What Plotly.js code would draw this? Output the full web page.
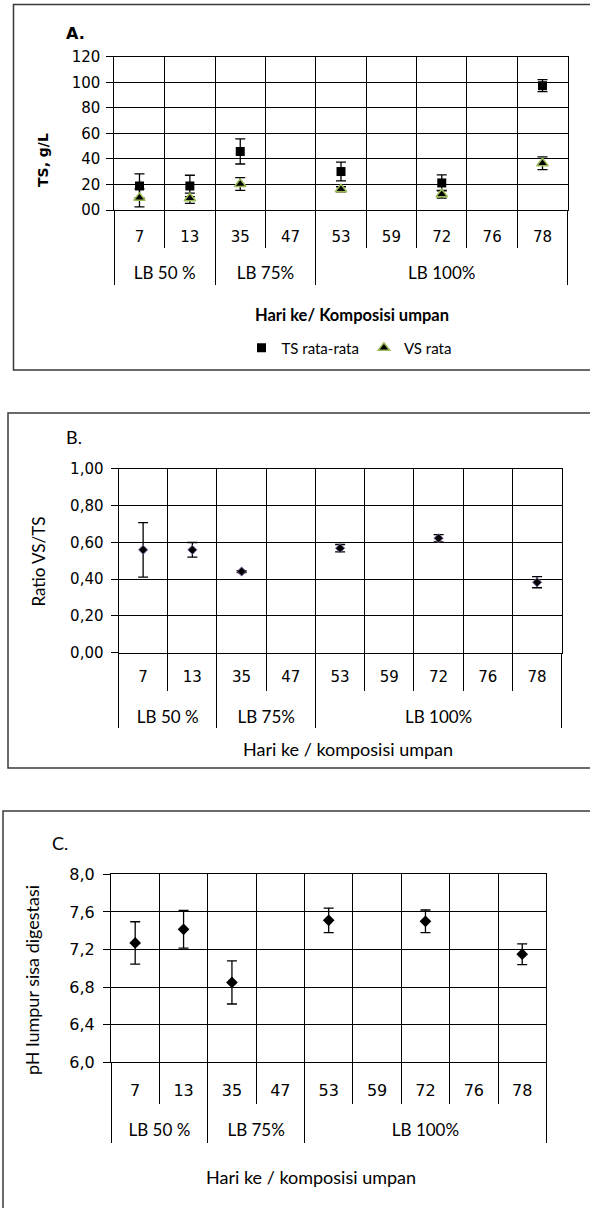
<!DOCTYPE html>
<html><head><meta charset="utf-8">
<script src="https://cdn.plot.ly/plotly-3.0.1.min.js"></script>
<style>html,body{margin:0;padding:0;background:#fff}#chart{width:590px;height:1208px}</style>
</head><body><div id="chart"></div>
<script>
// ---- data ----
const days = ['7','13','35','47','53','59','72','76','78'];
const groups = ['LB 50 %','LB 75%','LB 100%'];
const groupSizes = [2,2,5];
const tsMean  = [18.8,18.8,45.8,null,30.1,null,21.2,null,97.3];
const tsErr   = [9.4,8.4,9.8,null,7.3,null,6.3,null,4.7];
const vsMean  = [9.5,9.2,20.4,null,16.2,null,12.3,null,36.6];
const vsErr   = [7,4,5,null,2,null,3,null,5];
const ratioMean = [0.559,0.559,0.441,null,0.568,null,0.622,null,0.383];
const ratioErr  = [0.148,0.04,0.005,null,0.02,null,0.02,null,0.03];
const phMean = [7.27,7.415,6.85,null,7.51,null,7.50,null,7.15];
const phErr  = [0.225,0.2,0.23,null,0.13,null,0.12,null,0.11];
const tsTicks = [0,20,40,60,80,100,120];
const tsTickText = ['00','20','40','60','80','100','120'];
const ratioTicks = [0,0.2,0.4,0.6,0.8,1.0];
const ratioTickText = ['0,00','0,20','0,40','0,60','0,80','1,00'];
const phTicks = [6.0,6.4,6.8,7.2,7.6,8.0];
const phTickText = ['6,0','6,4','6,8','7,2','7,6','8,0'];

// ---- helpers ----
const W = 590, H = 1208;
const px = v => v / W, py = v => 1 - v / H;
const xi = days.map((d, i) => i);
const bounds = days.map((d, i) => i - 0.5).concat([days.length - 0.5]);
const gb = [-0.5], gc = [];
let acc = 0;
groupSizes.forEach(n => { gc.push(acc + (n - 1) / 2); acc += n; gb.push(acc - 0.5); });
const xr = [-0.5, days.length - 0.5];

const layout = {
  width: W, height: H, margin: {l: 0, r: 0, t: 0, b: 0},
  paper_bgcolor: '#fff', plot_bgcolor: 'rgba(0,0,0,0)',
  showlegend: true,
  legend: {orientation: 'h', x: px(349), xanchor: 'center', y: py(348), yanchor: 'middle',
           font: {family: 'Lato', size: 15, color: '#000'}, bgcolor: 'rgba(0,0,0,0)', itemwidth: 30},
  annotations: [], shapes: []
};

const data = [];

function panel(p) {
  const mainX = 'xaxis' + (p.xn === 1 ? '' : p.xn);
  const grpX = 'xaxis' + (p.xn + 1);
  const yA = 'yaxis' + (p.yn === 1 ? '' : p.yn);
  const yRef = 'y' + (p.yn === 1 ? '' : p.yn);
  const xRef = 'x' + (p.xn === 1 ? '' : p.xn);
  const gRef = 'x' + (p.xn + 1);
  layout[mainX] = {
    domain: [px(p.L), px(p.R)], anchor: yRef, range: xr, fixedrange: true,
    tickmode: 'array', tickvals: xi, ticktext: days, ticks: '',
    showgrid: false, zeroline: false, showline: true, linecolor: '#000', linewidth: 1, mirror: true,
    tickfont: p.catFont, ticklabelstandoff: p.catOff,
    minor: {tickmode: 'array', tickvals: bounds, ticks: 'outside', ticklen: p.shortLen,
            tickcolor: '#000', tickwidth: 1, showgrid: true, gridcolor: '#000', gridwidth: 1}
  };
  layout[grpX] = {
    overlaying: xRef, anchor: yRef, range: xr, fixedrange: true,
    tickmode: 'array', tickvals: gc, ticktext: groups, ticks: '',
    showgrid: false, zeroline: false, showline: false,
    tickfont: {family: 'Lato', size: 17, color: '#000'}, ticklabelstandoff: p.grpOff,
    minor: {tickmode: 'array', tickvals: gb, ticks: 'outside', ticklen: p.grpLen,
            tickcolor: '#000', tickwidth: 1, showgrid: false}
  };
  layout[yA] = {
    domain: [py(p.B), py(p.T)], anchor: xRef, range: p.yr, fixedrange: true,
    tickmode: 'array', tickvals: p.tv, ticktext: p.tt, ticks: 'outside', ticklen: 7,
    tickcolor: '#000', tickwidth: 1, showgrid: true, gridcolor: '#000', gridwidth: 1,
    showline: true, linecolor: '#000', linewidth: 1, mirror: true, zeroline: false,
    tickfont: p.yFont, ticklabelstandoff: p.yOff
  };
  // empty carrier trace so the group-label axis is drawn
  data.push({type: 'scatter', mode: 'markers', x: gc, y: gc.map(() => null), xaxis: gRef, yaxis: yRef,
             showlegend: false, hoverinfo: 'skip', marker: {opacity: 0}});
  return {x: xRef, y: yRef};
}

const A = panel({xn: 1, yn: 1, L: 114.3, R: 567.7, T: 56.7, B: 210, yr: [0, 120], tv: tsTicks, tt: tsTickText,
  catFont: {family: 'DejaVu Sans', size: 15, color: '#000'}, yFont: {family: 'DejaVu Sans', size: 15, color: '#000'},
  catOff: 13, grpOff: 51, yOff: 3, shortLen: 37, grpLen: 74});
const Bp = panel({xn: 3, yn: 2, L: 118.5, R: 561.7, T: 468.7, B: 652.7, yr: [0, 1], tv: ratioTicks, tt: ratioTickText,
  catFont: {family: 'DejaVu Sans', size: 15, color: '#000'}, yFont: {family: 'DejaVu Sans', size: 15, color: '#000'},
  catOff: 10, grpOff: 52, yOff: 4, shortLen: 37, grpLen: 74});
const Cp = panel({xn: 5, yn: 3, L: 111, R: 546.4, T: 874.3, B: 1062.3, yr: [6, 8], tv: phTicks, tt: phTickText,
  catFont: {family: 'DejaVu Sans', size: 16, color: '#000'}, yFont: {family: 'DejaVu Sans', size: 16, color: '#000'},
  catOff: 13, grpOff: 56, yOff: 5, shortLen: 41, grpLen: 80});

const eb = (arr) => ({type: 'data', array: arr, visible: true, color: '#000', thickness: 1.3, width: 5});

data.push(
  {type: 'scatter', mode: 'markers', name: 'TS rata-rata', x: xi, y: tsMean, xaxis: A.x, yaxis: A.y,
   marker: {symbol: 'square', size: 9, color: '#000'}, error_y: eb(tsErr), cliponaxis: false},
  {type: 'scatter', mode: 'markers', name: 'VS rata', x: xi, y: vsMean, xaxis: A.x, yaxis: A.y,
   marker: {symbol: 'triangle-up', size: 10, color: '#000', line: {color: '#9BBB59', width: 1.5}}, error_y: eb(vsErr), cliponaxis: false},
  {type: 'scatter', mode: 'markers', name: 'Ratio VS/TS', x: xi, y: ratioMean, xaxis: Bp.x, yaxis: Bp.y, showlegend: false,
   marker: {symbol: 'diamond', size: 7, color: '#000', line: {color: '#8064A2', width: 1}}, error_y: eb(ratioErr), cliponaxis: false},
  {type: 'scatter', mode: 'markers', name: 'pH', x: xi, y: phMean, xaxis: Cp.x, yaxis: Cp.y, showlegend: false,
   marker: {symbol: 'diamond', size: 9, color: '#000'}, error_y: eb(phErr), cliponaxis: false}
);

function ann(text, x, y, font, extra) {
  layout.annotations.push(Object.assign({text: text, xref: 'paper', yref: 'paper', x: px(x), y: py(y),
    xanchor: 'center', yanchor: 'middle', showarrow: false, font: font}, extra || {}));
}
const lato = (s) => ({family: 'Lato', size: s, color: '#000'});
ann('<b>A.</b>', 64, 33, {family: 'DejaVu Sans', size: 16, color: '#000'}, {xanchor: 'left'});
ann('<b>TS, g/L</b>', 43, 160, {family: 'DejaVu Sans', size: 14, color: '#000'}, {textangle: -90});
ann('<b>Hari ke/ Komposisi umpan</b>', 352, 315, lato(16.5));
ann('B.', 64, 437, lato(18), {xanchor: 'left'});
ann('Ratio VS/TS', 37.6, 562, lato(17), {textangle: -90});
ann('Hari ke / komposisi umpan', 348, 749, lato(18));
ann('C.', 50, 843, lato(18), {xanchor: 'left'});
ann('pH lumpur sisa digestasi', 32, 980, lato(18), {textangle: -90});
ann('Hari ke / komposisi umpan', 311, 1177, lato(18));

function box(l, t, r, b) {
  layout.shapes.push({type: 'rect', xref: 'paper', yref: 'paper', x0: px(l), x1: px(r), y0: py(b), y1: py(t),
    line: {color: '#3a3a3a', width: 1.5}, fillcolor: 'rgba(0,0,0,0)', layer: 'below'});
}
box(13.5, 4.5, 600, 370);
box(8, 413, 600, 768);
box(3, 811, 600, 1230);

Plotly.newPlot('chart', data, layout, {staticPlot: true, displayModeBar: false});
</script>
</body></html>
